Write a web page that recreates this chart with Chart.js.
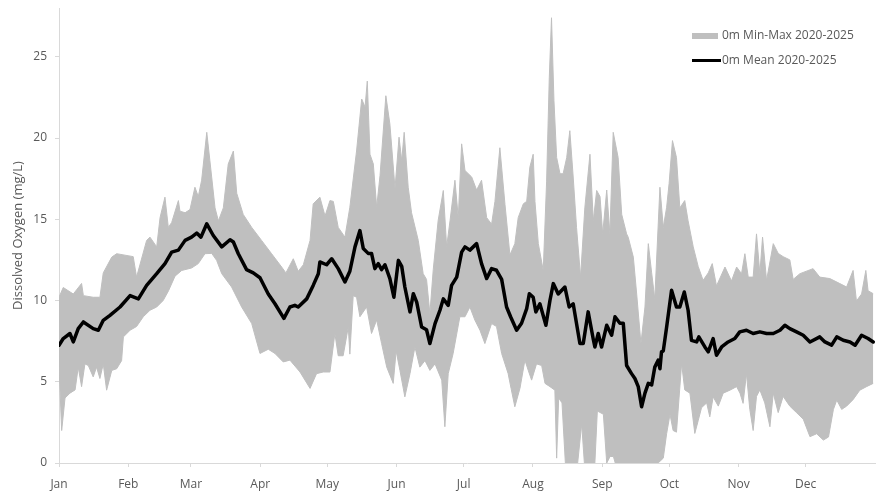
<!DOCTYPE html>
<html>
<head>
<meta charset="utf-8">
<script src="https://cdn.jsdelivr.net/npm/chart.js@4/dist/chart.umd.min.js"></script>
<style>
  html, body { margin: 0; padding: 0; background: #ffffff; }
  #wrap { position: relative; width: 880px; height: 495px; }
  #legend { position: absolute; left: 692px; top: 25px; font-family: "Open Sans", sans-serif; font-size: 12px; color: #595959; }
  .item { position: absolute; white-space: nowrap; height: 20px; line-height: 20px; }
  .swatch { position: absolute; left: 0; }
  .lbl { position: absolute; left: 30px; top: 0; }
</style>
</head>
<body>
<div id="wrap">
  <canvas id="c" width="880" height="495"></canvas>
  <div id="legend">
    <div class="item" style="top:0px;"><span class="swatch" style="top:8px;width:26px;height:6px;background:#bfbfbf;"></span><span class="lbl">0m Min-Max 2020-2025</span></div>
    <div class="item" style="top:25px;"><span class="swatch" style="top:9px;width:29px;height:3px;background:#000000;"></span><span class="lbl">0m Mean 2020-2025</span></div>
  </div>
</div>
<script>
// Month tick positions (day of year) and labels
const monthStarts = [0, 31, 59, 90, 120, 151, 181, 212, 243, 273, 304, 334];
const monthLabels = ["Jan","Feb","Mar","Apr","May","Jun","Jul","Aug","Sep","Oct","Nov","Dec"];
const yTicks = [0, 5, 10, 15, 20, 25];

// [day of year, mg/L]
const maxSeries = [[0,10.2],[1.9,10.8],[6.4,10.4],[10.1,11.05],[10.9,10.3],[15.3,10.2],[18.3,10.2],[19.8,11.7],[23.6,12.67],[25.8,12.88],[33.2,12.7],[34.7,11.44],[39.2,13.7],[40.7,13.9],[43.7,13.3],[45.2,15.1],[47.4,16.36],[48.9,14.5],[50.4,14.8],[53.4,16.15],[54.1,15.5],[56.4,15.4],[58.6,15.6],[60.8,16.97],[62.3,16.4],[63.8,17.4],[66.1,20.35],[67.5,18.6],[69.8,15.7],[71.3,14.9],[73.5,15.7],[75.7,18.4],[78,19.2],[79.5,16.6],[82.4,15.3],[86.2,14.5],[90.6,13.7],[95.1,12.88],[99.6,12.06],[101.5,11.7],[104.8,12.57],[107,11.8],[109.3,12.2],[112.3,13.7],[113.7,15.95],[116.7,16.36],[119,15.2],[121.2,16.15],[122.7,16.1],[124.9,14.5],[127.9,13.9],[130.1,15.74],[133.1,19.2],[135.4,22.4],[136.9,21.9],[137.9,23.5],[139.1,19.0],[140.6,18.4],[142.1,15.74],[143.6,17.7],[146.2,22.6],[148,20.87],[150.3,16.9],[152.1,20.05],[153.3,18.6],[154.4,20.35],[156.2,16.97],[157.7,15.4],[160.7,13.7],[162.9,11.65],[164.4,11.3],[165.9,9.2],[167.4,11.9],[169.6,14.93],[171.9,16.77],[173.4,13.3],[174.9,14.9],[177.1,17.4],[178.6,15.1],[180.1,19.64],[181.6,18.0],[184.6,17.6],[186.8,16.8],[189,17.4],[191.3,15.1],[193.5,14.7],[195,16.1],[197.2,19.4],[199.5,15.9],[201.7,12.8],[203.9,13.5],[205.4,15.1],[207.7,15.95],[209.2,16.1],[210.6,18.2],[212.1,19.0],[212.9,16.1],[214.4,13.5],[216.6,11.85],[218.1,17.3],[219.3,23.7],[220.3,27.4],[221.4,22.3],[222.6,18.8],[224.1,17.8],[225.5,17.8],[227.1,18.8],[228.5,20.45],[230,17.6],[231.5,14.5],[233.3,11.44],[235.2,15.7],[237.5,19.0],[239,14.9],[240.5,16.77],[242,16.4],[243.2,14.1],[245,16.8],[246.4,14.1],[247.9,20.35],[250.1,18.8],[251.7,15.3],[253.9,14.1],[254.6,13.9],[256.9,12.67],[258.4,10.4],[260.3,7.35],[262.1,9.6],[263.6,13.5],[265.1,11.7],[266.5,10.1],[268.8,16.97],[270.3,14.5],[271.8,15.74],[272.9,17.2],[274.4,19.84],[276.2,18.8],[277.7,15.7],[279.9,16.15],[281.4,14.9],[283.7,13.3],[285.9,12.1],[288.1,11.24],[290.4,11.7],[292.2,12.27],[294.1,10.9],[297.9,12.06],[300.8,11.2],[303.1,12.06],[305.3,11.65],[306.8,12.88],[308.3,11.44],[310.5,11.44],[312,14.1],[313.5,11.65],[314.7,13.9],[316.5,11.24],[319.5,13.5],[321.7,12.9],[323.9,12.7],[326.9,12.5],[328.4,11.3],[331.4,11.65],[337.3,11.96],[340.3,11.44],[344.8,11.35],[349.3,11.04],[352.3,10.83],[355.2,11.85],[356.7,9.97],[359,10.4],[360.9,11.85],[361.9,10.6],[364.2,10.42]];

const minSeries = [[0,6.0],[1.2,2.0],[2.7,4.0],[4.9,4.3],[7.2,4.5],[8.6,5.9],[10.1,4.7],[11.6,6.1],[13.1,6.0],[15.3,5.3],[16.8,5.9],[18.3,5.2],[19.8,6.1],[21.3,4.48],[23.6,5.7],[25.8,5.8],[28,6.3],[28.8,7.76],[31.8,8.17],[34.7,8.4],[37.7,9.0],[40.7,9.4],[43.7,9.6],[46.6,10.0],[49,10.6],[51.9,11.5],[54.9,11.85],[59.3,12.0],[62.3,12.27],[65.3,12.88],[68.3,12.9],[70.5,12.47],[72.8,11.65],[77.2,10.83],[81.7,9.6],[86.2,8.58],[89.9,6.74],[93.6,7.0],[96.6,6.74],[100.3,6.22],[103.3,6.33],[107.8,5.6],[112.3,4.59],[115.2,5.5],[118.2,5.6],[121.2,5.6],[123.4,7.97],[124.9,6.6],[127.1,6.6],[129.4,8.37],[130.1,6.7],[131.6,10.3],[133.1,10.2],[134.6,9.0],[137.6,9.6],[139.8,7.97],[142.1,8.8],[144.3,7.35],[146.6,5.9],[149.5,4.9],[150.8,6.9],[152.5,5.7],[154.7,4.07],[157,5.5],[159.2,7.14],[161.4,5.9],[163.7,6.3],[165.9,5.7],[168.2,6.1],[171.2,5.1],[172.6,2.23],[174.1,5.5],[176.3,6.74],[179.3,9.0],[181.6,9.0],[183.8,9.6],[186,8.8],[188.3,8.17],[190.5,7.35],[193.5,8.58],[195.7,8.4],[198,6.74],[200.9,5.5],[202.2,4.6],[203.9,3.46],[206.2,4.6],[208.4,6.33],[209.9,5.7],[211.4,5.1],[213.6,6.1],[215.9,6.0],[217.4,4.9],[219.6,4.7],[221.8,4.48],[222.6,0.3],[223.5,4.0],[225,3.7],[226.5,0],[232,0],[233.8,2.4],[235,0],[239.7,0],[240.8,3.2],[243.5,3.0],[245,0],[246.5,0.4],[248,0.4],[248.8,0],[268,0],[270.3,0.3],[271.8,1.8],[273.3,3.0],[274.7,2.0],[276.2,1.9],[278.5,6.12],[279.9,4.5],[282.2,4.3],[284.4,1.82],[285.9,2.6],[287.4,3.4],[289.7,3.7],[291.1,2.84],[292.6,4.07],[294.9,3.5],[297.1,4.3],[300.1,4.48],[303.1,4.7],[304.6,4.3],[306,3.67],[307.5,5.5],[309,3.3],[310.5,2.0],[312,4.1],[313.5,4.5],[315.7,3.7],[318,2.23],[319.5,4.3],[321.7,3.1],[323.9,4.1],[326.9,3.5],[329.9,3.1],[332.9,2.7],[335.9,1.62],[338.9,1.8],[341.9,1.41],[344.2,1.6],[346.4,3.3],[347.9,3.87],[350.1,3.3],[352.3,3.5],[355.2,3.9],[358.2,4.48],[361.2,4.7],[364.2,4.9]];

const meanSeries = [[0,7.25],[1.9,7.66],[4.9,7.97],[6.4,7.45],[8.6,8.27],[10.9,8.68],[15.3,8.27],[17.6,8.17],[19.8,8.78],[22.8,9.09],[27.3,9.6],[31.8,10.3],[35.5,10.1],[39.2,10.93],[43.7,11.65],[47.4,12.27],[50.4,12.98],[53.4,13.1],[56.4,13.7],[59.3,13.9],[61.6,14.15],[63.5,13.9],[66.1,14.72],[69,14.0],[72.8,13.3],[76.5,13.74],[78,13.6],[80.2,12.88],[83.9,11.9],[86.9,11.7],[89.9,11.4],[93.6,10.4],[96.6,9.8],[100.6,8.9],[103.3,9.6],[105.5,9.7],[107,9.6],[110.8,10.1],[113.7,10.93],[116,11.65],[116.7,12.37],[119.7,12.2],[122,12.57],[124.9,11.96],[127.9,11.14],[130.1,11.8],[132.4,13.3],[134.6,14.3],[136.1,13.2],[138.3,12.9],[139.8,12.9],[141.3,11.96],[142.8,12.27],[144.3,11.9],[145.8,12.2],[148,11.35],[149.8,10.2],[151.8,12.47],[153.3,12.1],[154.7,10.83],[157,9.3],[158.5,10.42],[160,9.9],[162.2,8.37],[164.4,8.2],[165.9,7.35],[168.2,8.58],[170.4,9.4],[171.9,10.1],[174.1,9.7],[175.6,10.93],[177.9,11.44],[180.1,12.98],[181.6,13.3],[183.8,13.1],[186.8,13.5],[189,12.27],[191.3,11.35],[193.5,11.96],[195.7,11.86],[198,11.3],[200.2,9.6],[202,9.0],[204.7,8.17],[206.9,8.6],[209.2,9.5],[210.4,10.42],[212.1,10.2],[213.3,9.3],[215.1,9.8],[217.8,8.48],[219.6,10.0],[221.1,11.04],[223.3,10.4],[226.3,10.83],[228.2,9.6],[230,9.8],[233,7.35],[234.5,7.35],[236.7,9.3],[239,7.6],[239.7,7.14],[241.2,7.97],[242.7,7.14],[245,8.48],[247.2,7.86],[248.7,9.0],[250.9,8.6],[252.4,8.6],[253.9,6.0],[256.1,5.5],[257.6,5.2],[259.1,4.7],[260.6,3.46],[262.1,4.3],[263.6,4.9],[265.1,4.8],[266.5,5.9],[268,6.33],[268.8,5.8],[269.5,6.84],[270.3,6.9],[271.8,8.37],[274,10.63],[276.2,9.6],[277.7,9.6],[279.7,10.52],[281.4,9.4],[282.9,7.55],[285.2,7.45],[286.2,7.76],[288.9,7.14],[290.4,6.84],[292.6,7.66],[294.1,6.63],[296.4,7.14],[299.3,7.45],[302.3,7.66],[304.5,8.07],[307.5,8.17],[310.5,7.97],[313.5,8.07],[316.5,7.97],[319.5,7.97],[322.5,8.17],[324.7,8.48],[326.9,8.27],[329.9,8.07],[332.9,7.86],[335.9,7.45],[340.3,7.76],[342.6,7.45],[345.6,7.25],[347.9,7.76],[350.8,7.55],[353.8,7.45],[356.1,7.25],[359,7.86],[361.9,7.66],[364.2,7.45]];

const toPts = s => s.map(p => ({ x: p[0], y: p[1] }));
const axisColor = '#d9d9d9';
const textColor = '#595959';
const fontFamily = '"Open Sans", sans-serif';

new Chart(document.getElementById('c'), {
  type: 'line',
  data: {
    datasets: [
      { label: '0m Mean 2020-2025', data: toPts(meanSeries), borderColor: '#000000', borderWidth: 3.5, borderJoinStyle: 'round', borderCapStyle: 'round', pointRadius: 0, tension: 0, fill: false, order: 0 },
      { label: '0m Max', data: toPts(maxSeries), borderColor: '#bfbfbf', borderWidth: 1, backgroundColor: '#bfbfbf', pointRadius: 0, tension: 0, fill: 2, order: 1 },
      { label: '0m Min', data: toPts(minSeries), borderColor: '#bfbfbf', borderWidth: 1, pointRadius: 0, tension: 0, fill: false, order: 2 }
    ]
  },
  options: {
    responsive: false,
    animation: false,
    events: [],
    layout: { padding: { top: 8, right: 5, left: 0, bottom: 0 } },
    plugins: { legend: { display: false }, tooltip: { enabled: false } },
    scales: {
      x: {
        type: 'linear', min: 0, max: 365,
        afterBuildTicks: s => { s.ticks = monthStarts.map(v => ({ value: v })); },
        afterFit: s => { s.height = 32; s.paddingLeft = 0; s.paddingRight = 0; },
        ticks: { autoSkip: false, maxRotation: 0, padding: 10, color: textColor, font: { family: fontFamily, size: 12 },
                 callback: (v, i) => monthLabels[i] },
        grid: { display: true, drawOnChartArea: false, drawTicks: true, tickLength: 4, color: axisColor },
        border: { display: true, color: axisColor }
      },
      y: {
        min: 0, max: 28,
        afterBuildTicks: s => { s.ticks = yTicks.map(v => ({ value: v })); },
        afterFit: s => { s.width = 59; s.paddingTop = 0; s.paddingBottom = 0; },
        ticks: { padding: 8, color: textColor, font: { family: fontFamily, size: 12 } },
        grid: { display: true, drawOnChartArea: false, drawTicks: true, tickLength: 4, color: axisColor },
        border: { display: true, color: axisColor },
        title: { display: true, text: 'Dissolved Oxygen (mg/L)', color: textColor, font: { family: fontFamily, size: 13 }, padding: { top: 10, bottom: 0 } }
      }
    }
  }
});
</script>
</body>
</html>
